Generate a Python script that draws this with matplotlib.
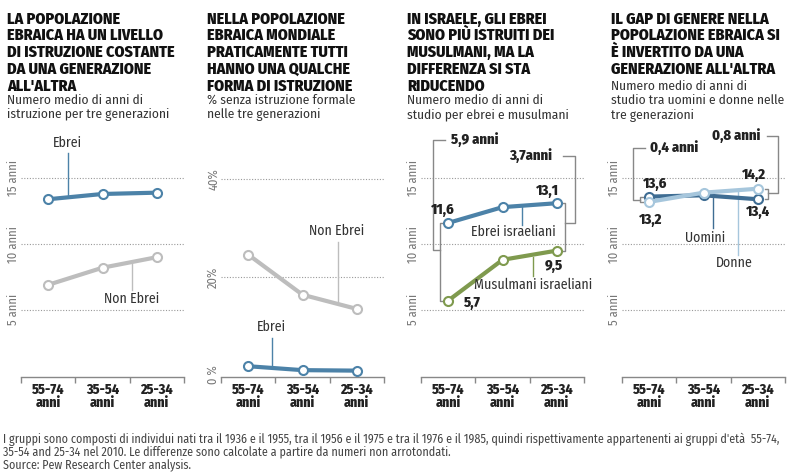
import matplotlib
matplotlib.use("Agg")
import matplotlib.pyplot as plt
from matplotlib import font_manager

# famiglia condensata se disponibile, altrimenti Liberation Sans
_installati = {f.name for f in font_manager.fontManager.ttflist}
_candidati = ['Fira Sans Condensed', 'PT Sans Narrow', 'Archivo Narrow', 'Liberation Sans Narrow',
              'IBM Plex Sans Condensed', 'Roboto Condensed']
FAMIGLIA = [c for c in _candidati if c in _installati] + ['Liberation Sans', 'DejaVu Sans']
plt.rcParams['font.family'] = FAMIGLIA

generazioni = ["55-74\nanni", "35-54\nanni", "25-34\nanni"]

# pannello 1: anni medi di istruzione
ebrei_anni = [13.4, 13.8, 13.9]
non_ebrei_anni = [6.9, 8.2, 9.0]
# pannello 2: % senza istruzione formale
ebrei_senza = [1.8, 1.0, 0.9]
non_ebrei_senza = [24.6, 16.4, 13.5]
# pannello 3: Israele
ebrei_isr = [11.6, 12.8, 13.1]
musulmani_isr = [5.7, 8.8, 9.5]
# pannello 4: genere
uomini = [13.6, 13.7, 13.4]
donne = [13.2, 13.9, 14.2]

titoli = [
    "LA POPOLAZIONE\nEBRAICA HA UN LIVELLO\nDI ISTRUZIONE COSTANTE\nDA UNA GENERAZIONE\nALL'ALTRA",
    "NELLA POPOLAZIONE\nEBRAICA MONDIALE\nPRATICAMENTE TUTTI\nHANNO UNA QUALCHE\nFORMA DI ISTRUZIONE",
    "IN ISRAELE, GLI EBREI\nSONO PIÙ ISTRUITI DEI\nMUSULMANI, MA LA\nDIFFERENZA SI STA\nRIDUCENDO",
    "IL GAP DI GENERE NELLA\nPOPOLAZIONE EBRAICA SI\nÈ INVERTITO DA UNA\nGENERAZIONE ALL'ALTRA",
]
sottotitoli = [
    "Numero medio di anni di\nistruzione per tre generazioni",
    "% senza istruzione formale\nnelle tre generazioni",
    "Numero medio di anni di\nstudio per ebrei e musulmani",
    "Numero medio di anni di\nstudio tra uomini e donne nelle\ntre generazioni",
]
nota = ("I gruppi sono composti di individui nati tra il 1936 e il 1955, tra il 1956 e il 1975 e tra il 1976 e il 1985, "
        "quindi rispettivamente appartenenti ai gruppi d'età  55-74,\n35-54 and 25-34 nel 2010. "
        "Le differenze sono calcolate a partire da numeri non arrotondati.\nSource: Pew Research Center analysis.")

BLU = "#4c82a8"
GRIGIO = "#bdbdbd"
VERDE = "#7f9a4e"
BLU_SCURO = "#3f6d93"
AZZURRO = "#a6c6dc"
LINEA = "#888888"
TESTO = "#222222"

W, H = 790, 472
fig = plt.figure(figsize=(W / 100, H / 100), dpi=100)

def box(left_px):
    return [left_px / W, (H - 377) / H, 163 / W, (377 - 140) / H]

def setup(ax, ylim, grid, ylabels):
    ax.set_xlim(-0.5, 2.5)
    ax.set_ylim(*ylim)
    for s in ['top', 'right', 'left']:
        ax.spines[s].set_visible(False)
    ax.spines['bottom'].set_color(LINEA)
    ax.spines['bottom'].set_linewidth(1)
    ax.set_xticks([0, 1, 2])
    ax.set_xticklabels(generazioni, fontsize=10, fontweight='heavy', color=TESTO, linespacing=0.95)
    ax.set_xticks([-0.5, 0.5, 1.5, 2.5], minor=True)
    ax.tick_params(axis='x', which='major', length=0, pad=4)
    ax.tick_params(axis='x', which='minor', length=4, color=LINEA, width=1)
    for g in grid:
        ax.axhline(g, color='#999999', lw=0.8, ls=(0, (1, 1.5)), zorder=1)
    ax.set_yticks(list(ylabels.keys()))
    ax.set_yticklabels(list(ylabels.values()), rotation=90, va='center', fontsize=9,
                       color='#777777')
    ax.tick_params(axis='y', length=0, pad=1)
    ax.patch.set_alpha(0)

def serie(ax, vals, col, z=3):
    ax.plot(range(3), vals, color=col, lw=3, zorder=z, solid_capstyle='round',
            marker='o', ms=6.5, mfc='white', mec=col, mew=1.5, clip_on=False)

def leader(ax, x, y0, y1, col):
    ax.plot([x, x], [y0, y1], color=col, lw=1, zorder=2, clip_on=False)

def label(ax, x, y, s, bold=False, ha='center'):
    ax.text(x, y, s, ha=ha, va='center', fontsize=10.5 if bold else 10,
            fontweight='heavy' if bold else 'normal', color=TESTO if bold else '#333333',
            clip_on=False)

def bracket(ax, pts, col=LINEA):
    ax.plot([p[0] for p in pts], [p[1] for p in pts], color=col, lw=1, zorder=2, clip_on=False)

anni_lab = {5: "5 anni", 10: "10 anni", 15: "15 anni"}
ylim_anni = (-0.1, 17.9)

# Pannello 1
ax1 = fig.add_axes(box(21))
setup(ax1, ylim_anni, [5, 10, 15], anni_lab)
serie(ax1, non_ebrei_anni, GRIGIO)
serie(ax1, ebrei_anni, BLU)
leader(ax1, 0.365, 16.9, 13.55, BLU)
label(ax1, 0.35, 17.7, "Ebrei")
leader(ax1, 1.54, 6.5, 8.5, GRIGIO)
label(ax1, 1.54, 5.8, "Non Ebrei")

# Pannello 2
ax2 = fig.add_axes(box(221))
setup(ax2, (-0.4, 48), [20, 40], {0: "0 %", 20: "20%", 40: "40%"})
serie(ax2, non_ebrei_senza, GRIGIO)
serie(ax2, ebrei_senza, BLU)
leader(ax2, 1.65, 27.1, 14.7, GRIGIO)
label(ax2, 1.63, 29.4, "Non Ebrei")
leader(ax2, 0.44, 7.5, 1.4, BLU)
label(ax2, 0.42, 9.8, "Ebrei")

# Pannello 3
ax3 = fig.add_axes(box(421))
setup(ax3, ylim_anni, [5, 10, 15], anni_lab)
serie(ax3, ebrei_isr, BLU)
serie(ax3, musulmani_isr, VERDE)
leader(ax3, 1.36, 13.0, 11.45, BLU)
label(ax3, 1.19, 10.9, "Ebrei israeliani")
leader(ax3, 1.56, 9.0, 7.6, VERDE)
label(ax3, 1.56, 6.9, "Musulmani israeliani")
label(ax3, -0.1, 12.6, "11,6", bold=True)
label(ax3, 1.82, 14.0, "13,1", bold=True)
label(ax3, 0.44, 5.5, "5,7", bold=True)
label(ax3, 1.95, 8.3, "9,5", bold=True)
# parentesi 5,9 anni
bracket(ax3, [(-0.1, ebrei_isr[0]), (-0.15, ebrei_isr[0]), (-0.15, musulmani_isr[0]), (-0.1, musulmani_isr[0])])
bracket(ax3, [(-0.06, 17.9), (-0.28, 17.9), (-0.28, 9.55), (-0.15, 9.55)])
label(ax3, 0.05, 17.9, "5,9 anni", bold=True, ha='left')
# parentesi 3,7 anni
bracket(ax3, [(2.1, ebrei_isr[2]), (2.15, ebrei_isr[2]), (2.15, musulmani_isr[2]), (2.1, musulmani_isr[2])])
bracket(ax3, [(2.11, 16.7), (2.33, 16.7), (2.33, 11.6), (2.15, 11.6)])
label(ax3, 1.91, 16.7, "3,7anni", bold=True, ha='right')

# Pannello 4
ax4 = fig.add_axes(box(622))
setup(ax4, ylim_anni, [5, 10, 15], anni_lab)
serie(ax4, uomini, BLU_SCURO, z=3)
serie(ax4, donne, AZZURRO, z=4)
leader(ax4, 1.17, 13.6, 11.2, BLU_SCURO)
label(ax4, 1.03, 10.5, "Uomini")
leader(ax4, 1.64, 13.95, 9.2, AZZURRO)
label(ax4, 1.56, 8.6, "Donne")
label(ax4, 0.11, 14.6, "13,6", bold=True)
label(ax4, 0.02, 11.8, "13,2", bold=True)
label(ax4, 1.93, 15.25, "14,2", bold=True)
label(ax4, 2.0, 12.4, "13,4", bold=True)
bracket(ax4, [(-0.12, uomini[0]), (-0.17, uomini[0]), (-0.17, donne[0]), (-0.12, donne[0])])
bracket(ax4, [(-0.08, 17.3), (-0.3, 17.3), (-0.3, 13.35), (-0.17, 13.35)])
label(ax4, 0.015, 17.3, "0,4 anni", bold=True, ha='left')
bracket(ax4, [(2.14, donne[2]), (2.19, donne[2]), (2.19, uomini[2]), (2.14, uomini[2])])
bracket(ax4, [(2.17, 18.2), (2.37, 18.2), (2.37, 13.9), (2.19, 13.9)])
label(ax4, 2.04, 18.2, "0,8 anni", bold=True, ha='right')

# Titoli
for xpx, t, s, ys in zip([7, 207, 407, 611], titoli, sottotitoli, [94, 94, 94, 80]):
    fig.text(xpx / W, 1 - 11 / H, t, ha='left', va='top', fontsize=11.5, fontweight='heavy',
             color='#111111', linespacing=1.07)
    fig.text(xpx / W, 1 - ys / H, s, ha='left', va='top', fontsize=9.6,
             color='#333333', linespacing=1.2)

fig.text(3 / W, 1 - 433 / H, nota, ha='left', va='top', fontsize=8.65,
         color='#444444', linespacing=0.95)

fig.savefig("out.png", dpi=100)
